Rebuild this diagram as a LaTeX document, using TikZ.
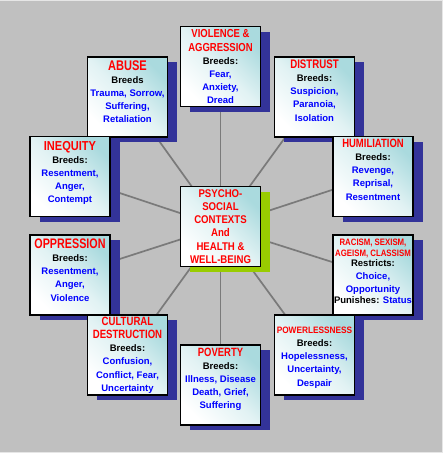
\documentclass[tikz,border=0pt]{standalone}
\usepackage{fontspec}
\setmainfont{Liberation Sans}
\usepackage{graphicx}
\usetikzlibrary{shadows}
\pgfdeclarelayer{bg}
\pgfsetlayers{bg,main}
\definecolor{shadenavy}{HTML}{333399}
\definecolor{shadelime}{HTML}{99CC00}
\definecolor{boxteal}{HTML}{AADADE}
\definecolor{spokegray}{HTML}{7A7A7A}
\definecolor{bggray}{HTML}{C0C0C0}
\definecolor{tred}{HTML}{FF0000}
\definecolor{tblue}{HTML}{0000FF}
\newcommand\ttl[3]{{\color{tred}\fontsize{#2}{13.2}\selectfont\scalebox{#1}[1]{#3}}}
\newcommand\blu[1]{{\color{tblue}#1}}
\newcommand\mybox[2]{\parbox[c][80pt][t]{80pt}{\centering\bfseries\fontsize{9.5}{13.2}\selectfont\rule{0pt}{#1}#2}}
\begin{document}
\begin{tikzpicture}[x=1pt,y=-1pt,
  box/.style={draw=black, line width=1.4pt, top color=boxteal, bottom color=white,
    middle color=boxteal!35!white, shading angle=-45,
    minimum width=80pt, minimum height=80pt, inner sep=0pt},
  boxn/.style={box, drop shadow={shadow xshift=9.5pt, shadow yshift=-5pt, fill=shadenavy, opacity=1}},
  boxc/.style={box, drop shadow={shadow xshift=9.5pt, shadow yshift=-5pt, fill=shadelime, opacity=1}},
  spoke/.style={draw=spokegray, line width=1.7pt}]
\begin{pgfonlayer}{bg}
\fill[bggray] (0,0) rectangle (442,453);
\draw[white!60!bggray, line width=1pt] (0,0.5) -- (441.5,0.5) -- (441.5,452.5) -- (0,452.5);
\end{pgfonlayer}
\useasboundingbox (0,0) rectangle (442,453);

\node[boxc] (ctr) at (220,226.5) {\mybox{10.8pt}{\ttl{.86}{11.2}{PSYCHO-}\\\ttl{.86}{11.2}{SOCIAL}\\\ttl{.86}{11.2}{CONTEXTS}\\\ttl{.86}{11.2}{And}\\\ttl{.86}{11.2}{HEALTH \&}\\\ttl{.86}{11.2}{WELL-BEING}}};

\node[boxn] (viol) at (220,66.5) {\mybox{11.3pt}{\ttl{.82}{11.6}{VIOLENCE \&}\\\ttl{.82}{11.6}{AGGRESSION}\\Breeds:\\\blu{Fear,}\\\blu{Anxiety,}\\\blu{Dread}}};

\node[boxn] (abuse) at (127,97) {\mybox{13pt}{\ttl{.79}{14}{ABUSE}\\Breeds\\\blu{Trauma, Sorrow,}\\\blu{Suffering,}\\\blu{Retaliation}}};

\node[boxn] (distr) at (314,97) {\mybox{11.3pt}{\ttl{.78}{12.4}{DISTRUST}\\Breeds:\\\blu{Suspicion,}\\\blu{Paranoia,}\\\blu{Isolation}}};

\node[boxn] (ineq) at (69.5,176.5) {\mybox{13.6pt}{\ttl{.85}{13}{INEQUITY}\\Breeds:\\\blu{Resentment,}\\\blu{Anger,}\\\blu{Contempt}}};

\node[boxn] (humil) at (372.5,176.5) {\mybox{10.8pt}{\ttl{.79}{12}{HUMILIATION}\\Breeds:\\\blu{Revenge,}\\\blu{Reprisal,}\\\blu{Resentment}}};

\node[boxn] (oppr) at (69.5,275) {\mybox{13.3pt}{\ttl{.78}{13.8}{OPPRESSION}\\Breeds:\\\blu{Resentment,}\\\blu{Anger,}\\\blu{Violence}}};

\node[boxn] (racism) at (372.5,275) {\mybox{10pt}{\ttl{.84}{9.3}{RACISM, SEXISM,}\\[-2.2pt]\ttl{.84}{9.3}{AGEISM, CLASSISM}\\[-2.5pt]Restricts:\\\blu{Choice,}\\[-0.5pt]\blu{Opportunity}\\[-1.9pt]Punishes: \blu{Status}}};

\node[boxn] (cult) at (127,355) {\mybox{10.3pt}{\ttl{.8}{12}{CULTURAL}\\\ttl{.8}{12}{DESTRUCTION}\\Breeds:\\\blu{Confusion,}\\\blu{Conflict, Fear,}\\\blu{Uncertainty}}};

\node[boxn] (pover) at (220,385) {\mybox{11pt}{\ttl{.79}{12}{POVERTY}\\Breeds:\\\blu{Illness, Disease}\\\blu{Death, Grief,}\\\blu{Suffering}}};

\node[boxn] (power) at (314,355) {\mybox{18.3pt}{\ttl{.89}{9.3}{POWERLESSNESS}\\Breeds:\\\blu{Hopelessness,}\\\blu{Uncertainty,}\\\blu{Despair}}};

\begin{pgfonlayer}{bg}
\foreach \n in {viol,abuse,distr,ineq,humil,oppr,racism,cult,pover,power}
  \draw[spoke] (ctr.center) -- (\n.center);
\end{pgfonlayer}
\end{tikzpicture}
\end{document}
